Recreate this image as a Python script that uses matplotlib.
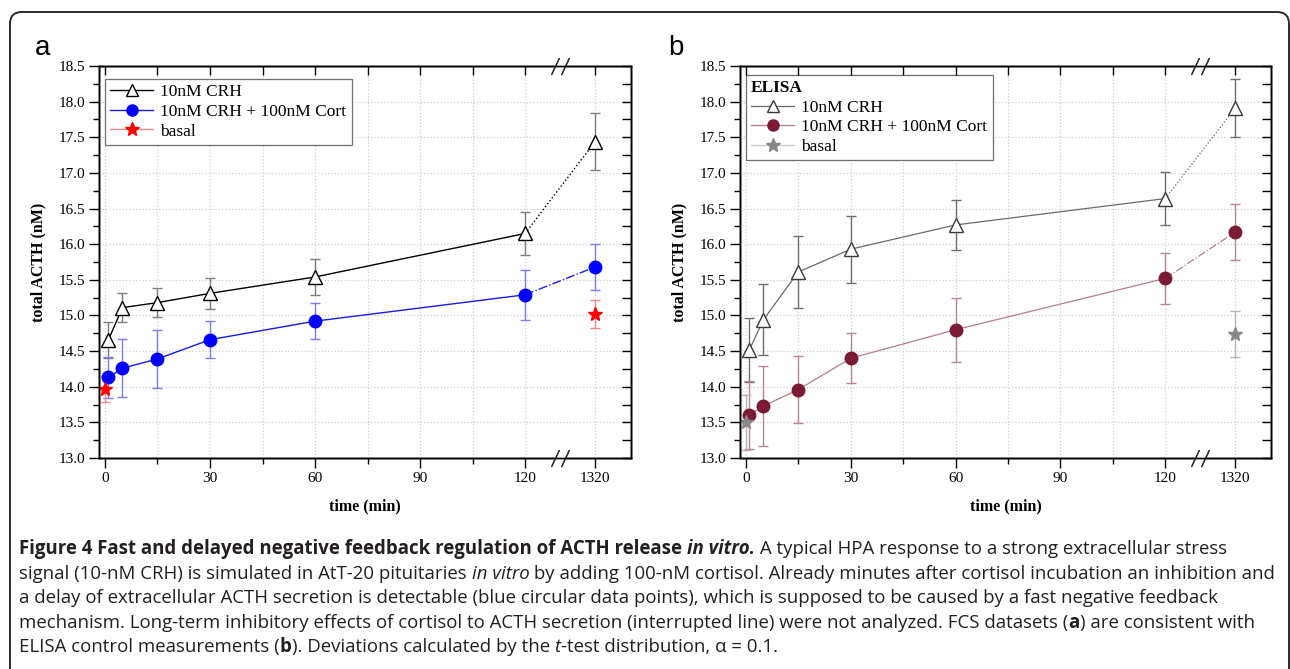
import matplotlib
matplotlib.use("Agg")
import matplotlib.pyplot as plt
import numpy as np
from matplotlib.lines import Line2D
from matplotlib.patches import FancyBboxPatch
from matplotlib.path import Path
import matplotlib.transforms as mtransforms

# ---- data ----
TIME = [1, 5, 15, 30, 60, 120, 1320]
BASAL_TIME = [0, 1320]
XTICKS = [0, 30, 60, 90, 120, 1320]
XTICKS_MINOR = [15, 45, 75, 105]

# panel a (FCS)
A_CRH = [14.66, 15.11, 15.18, 15.31, 15.54, 16.15, 17.44]
A_CRH_ERR = [0.25, 0.20, 0.20, 0.22, 0.25, 0.30, 0.40]
A_CORT = [14.13, 14.26, 14.39, 14.66, 14.92, 15.29, 15.68]
A_CORT_ERR = [0.29, 0.41, 0.41, 0.26, 0.25, 0.35, 0.32]
A_BASAL = [13.97, 15.02]
A_BASAL_ERR = [0.18, 0.20]

# panel b (ELISA)
B_CRH = [14.52, 14.94, 15.61, 15.93, 16.27, 16.64, 17.91]
B_CRH_ERR = [0.45, 0.50, 0.51, 0.47, 0.35, 0.37, 0.41]
B_CORT = [13.60, 13.73, 13.96, 14.40, 14.80, 15.52, 16.17]
B_CORT_ERR = [0.48, 0.56, 0.47, 0.35, 0.45, 0.36, 0.39]
B_BASAL = [13.50, 14.74]
B_BASAL_ERR = [0.39, 0.32]

LABELS = ["10nM CRH", "10nM CRH + 100nM Cort", "basal"]

SERIF = "Liberation Serif"
SANS = "Liberation Sans"
CAPTION_FONT = "Open Sans"

plt.rcParams.update({
    "font.family": SERIF,
    "axes.linewidth": 1.0,
    "xtick.labelsize": 11,
    "ytick.labelsize": 11,
})


# broken time axis: 0..120 linear, everything past 120 compressed
def fwd(t):
    t = np.asarray(t, dtype=float)
    return np.where(t <= 120, t, 120 + (t - 120) / 60.0)


def inv(u):
    u = np.asarray(u, dtype=float)
    return np.where(u <= 120, u, 120 + (u - 120) * 60.0)


def style_axes(ax):
    ax.set_xscale("function", functions=(fwd, inv))
    ax.set_xlim(-1.7, 1935)
    ax.set_ylim(13.0, 18.5)
    ax.set_xticks(XTICKS)
    ax.set_xticklabels([str(t) for t in XTICKS])
    ax.set_xticks(XTICKS_MINOR, minor=True)
    ax.set_yticks(np.arange(13.0, 18.51, 0.5))
    ax.set_yticklabels([f"{v:.1f}" for v in np.arange(13.0, 18.51, 0.5)])
    ax.set_yticks(np.arange(13.0, 18.51, 0.25), minor=True)
    ax.tick_params(which="major", direction="out", length=7, width=1.0, pad=3)
    ax.tick_params(which="minor", direction="out", length=4, width=1.0)
    ax.grid(axis="x", which="both", linestyle=":", color="#cfcfcf", linewidth=0.9)
    ax.grid(axis="y", which="major", linestyle=":", color="#cfcfcf", linewidth=0.9)
    ax.set_axisbelow(True)
    ax.set_xlabel("time (min)", fontsize=11.5, fontweight="bold", labelpad=10)
    ax.set_ylabel("total ACTH (nM)", fontsize=11.5, fontweight="bold", labelpad=9)

    # inward ticks on top and right
    axt = ax.twiny()
    axt.set_xscale("function", functions=(fwd, inv))
    axt.set_xlim(ax.get_xlim())
    axt.set_xticks(XTICKS + XTICKS_MINOR)
    axt.tick_params(axis="x", direction="in", length=6.5, width=1.0, labeltop=False)
    axr = ax.twinx()
    axr.set_ylim(13.0, 18.5)
    axr.set_yticks(np.arange(13.0, 18.51, 0.5))
    axr.set_yticks(np.arange(13.0, 18.51, 0.25), minor=True)
    axr.tick_params(axis="y", which="both", direction="in", length=6.5, width=1.0,
                    labelright=False)

    # "//" break marks on bottom and top spines
    slash = Path([(-9, -8.5), (-1, 8.5), (1, -8.5), (9, 8.5)],
                 [Path.MOVETO, Path.LINETO, Path.MOVETO, Path.LINETO])
    gap = Path([(-5, 0), (5, 0)], [Path.MOVETO, Path.LINETO])
    trans = mtransforms.blended_transform_factory(ax.transData, ax.transAxes)
    for yy in (0, 1):
        ax.plot([720], [yy], transform=trans, marker=gap, markersize=7.2,
                markeredgecolor="white", markeredgewidth=3.5, clip_on=False, zorder=5)
        ax.plot([720], [yy], transform=trans, marker=slash, markersize=13,
                markeredgecolor="#222222", markerfacecolor="none",
                markeredgewidth=1.1, clip_on=False, zorder=6)
    ax.set_xlim(-1.7, 1935)


def draw_series(ax, y, err, line_c, err_c, marker, m_face, m_edge, ms, ext_ls, lw=1.0):
    ax.errorbar(TIME, y, yerr=err, fmt="none", ecolor=err_c, elinewidth=1.0,
                capsize=3.6, capthick=1.0, zorder=3)
    ax.plot(TIME[:-1], y[:-1], color=line_c, linewidth=lw, zorder=4)
    ax.plot(TIME[-2:], y[-2:], color=line_c, linewidth=lw, linestyle=ext_ls, zorder=4)
    ax.plot(TIME, y, linestyle="none", marker=marker, markersize=ms,
            markerfacecolor=m_face, markeredgecolor=m_edge, markeredgewidth=1.0, zorder=5)


def draw_basal(ax, y, err, color, err_c):
    ax.errorbar(BASAL_TIME, y, yerr=err, fmt="none", ecolor=err_c, elinewidth=1.0,
                capsize=3.6, capthick=1.0, zorder=3)
    ax.plot(BASAL_TIME, y, linestyle="none", marker="*", markersize=10,
            color=color, zorder=5)


fig = plt.figure(figsize=(12.9, 6.69), dpi=100)

# outer rounded frame
frame = FancyBboxPatch((10, -30), 1279, 657 + 30, boxstyle="round,pad=0,rounding_size=12",
                       transform=mtransforms.IdentityTransform(), facecolor="none",
                       edgecolor="#2b2b2b", linewidth=1.4, clip_on=False)
fig.patches.append(frame)

ax_a = fig.add_axes([99 / 1290, 1 - 458 / 669, 532 / 1290, 392 / 669])
ax_b = fig.add_axes([740 / 1290, 1 - 458 / 669, 531 / 1290, 392 / 669])

# panel a
draw_series(ax_a, A_CRH, A_CRH_ERR, "black", "#7d7d7d", "^", "white", "black", 10, ":")
draw_series(ax_a, A_CORT, A_CORT_ERR, "#1a1ae6", "#7b7bf5", "o", "#0000ff", "#0000ff", 9, "-.")
draw_basal(ax_a, A_BASAL, A_BASAL_ERR, "#ff0000", "#f08a8a")
style_axes(ax_a)

# panel b
draw_series(ax_b, B_CRH, B_CRH_ERR, "#6a6a6a", "#6e6e6e", "^", "white", "#3a3a3a", 10, ":", lw=0.9)
draw_series(ax_b, B_CORT, B_CORT_ERR, "#b47d8b", "#b98592", "o", "#7a1a33", "#7a1a33", 9, "-.", lw=0.9)
draw_basal(ax_b, B_BASAL, B_BASAL_ERR, "#888888", "#b5b5b5")
style_axes(ax_b)

leg_kw = dict(loc="upper left", frameon=True, fancybox=False, framealpha=1.0,
              edgecolor="#6f6f6f", prop={"family": SERIF, "size": 12.5},
              handlelength=2.5, handletextpad=0.4, labelspacing=0.2,
              borderpad=0.3, borderaxespad=0)

h_a = [
    Line2D([], [], color="black", lw=1.0, marker="^", ms=9, mfc="white", mec="black"),
    Line2D([], [], color="#1a1ae6", lw=1.0, marker="o", ms=8, mfc="#0000ff", mec="#0000ff"),
    Line2D([], [], color="#f08a8a", lw=1.0, marker="*", ms=10, mfc="#ff0000", mec="#ff0000"),
]
leg_a = ax_a.legend(h_a, LABELS, bbox_to_anchor=(0.011, 0.967), **leg_kw)
leg_a.get_frame().set_linewidth(0.9)

h_b = [
    Line2D([], [], color="#6a6a6a", lw=0.9, marker="^", ms=9, mfc="white", mec="#3a3a3a"),
    Line2D([], [], color="#b47d8b", lw=0.9, marker="o", ms=8, mfc="#7a1a33", mec="#7a1a33"),
    Line2D([], [], color="#c8c8c8", lw=0.9, marker="*", ms=10, mfc="#888888", mec="#888888"),
]
leg_b = ax_b.legend(h_b, LABELS, bbox_to_anchor=(0.011, 0.977), title="ELISA",
                    alignment="left", title_fontproperties={"family": SERIF, "size": 12.5,
                                                            "weight": "bold"}, **leg_kw)
leg_b.get_frame().set_linewidth(0.9)

# panel letters
fig.text(35 / 1290, 1 - 55 / 669, "a", family=SANS, fontsize=20)
fig.text(668 / 1290, 1 - 55 / 669, "b", family=SANS, fontsize=20)

# caption with mixed bold / italic runs
CAPTION = [
    [("Figure 4 Fast and delayed negative feedback regulation of ACTH release ", "bold", "normal"),
     ("in vitro.", "bold", "italic"),
     (" A typical HPA response to a strong extracellular stress", "normal", "normal")],
    [("signal (10-nM CRH) is simulated in AtT-20 pituitaries ", "normal", "normal"),
     ("in vitro", "normal", "italic"),
     (" by adding 100-nM cortisol. Already minutes after cortisol incubation an inhibition and",
      "normal", "normal")],
    [("a delay of extracellular ACTH secretion is detectable (blue circular data points), "
      "which is supposed to be caused by a fast negative feedback", "normal", "normal")],
    [("mechanism. Long-term inhibitory effects of cortisol to ACTH secretion (interrupted line) "
      "were not analyzed. FCS datasets (", "normal", "normal"),
     ("a", "bold", "normal"),
     (") are consistent with", "normal", "normal")],
    [("ELISA control measurements (", "normal", "normal"),
     ("b", "bold", "normal"),
     ("). Deviations calculated by the ", "normal", "normal"),
     ("t", "normal", "italic"),
     ("-test distribution, \u03b1 = 0.1.", "normal", "normal")],
]
CAP_SIZE = 13.45
renderer = fig.canvas.get_renderer()
ident = mtransforms.IdentityTransform()


def text_width(s, weight, style):
    t = fig.text(0, 0, s, family=CAPTION_FONT, fontsize=CAP_SIZE, fontweight=weight,
                 fontstyle=style, transform=ident)
    w = t.get_window_extent(renderer).width
    t.remove()
    return w


for i, line in enumerate(CAPTION):
    x = 19
    y = 669 - (549 + 24.6 * i)
    for s, weight, style in line:
        fig.text(x, y, s, family=CAPTION_FONT, fontsize=CAP_SIZE, fontweight=weight,
                 fontstyle=style, color="#231f20", va="center", transform=ident)
        x += text_width("|" + s + "|", weight, style) - text_width("||", weight, style)

fig.savefig("out.png", dpi=100)
